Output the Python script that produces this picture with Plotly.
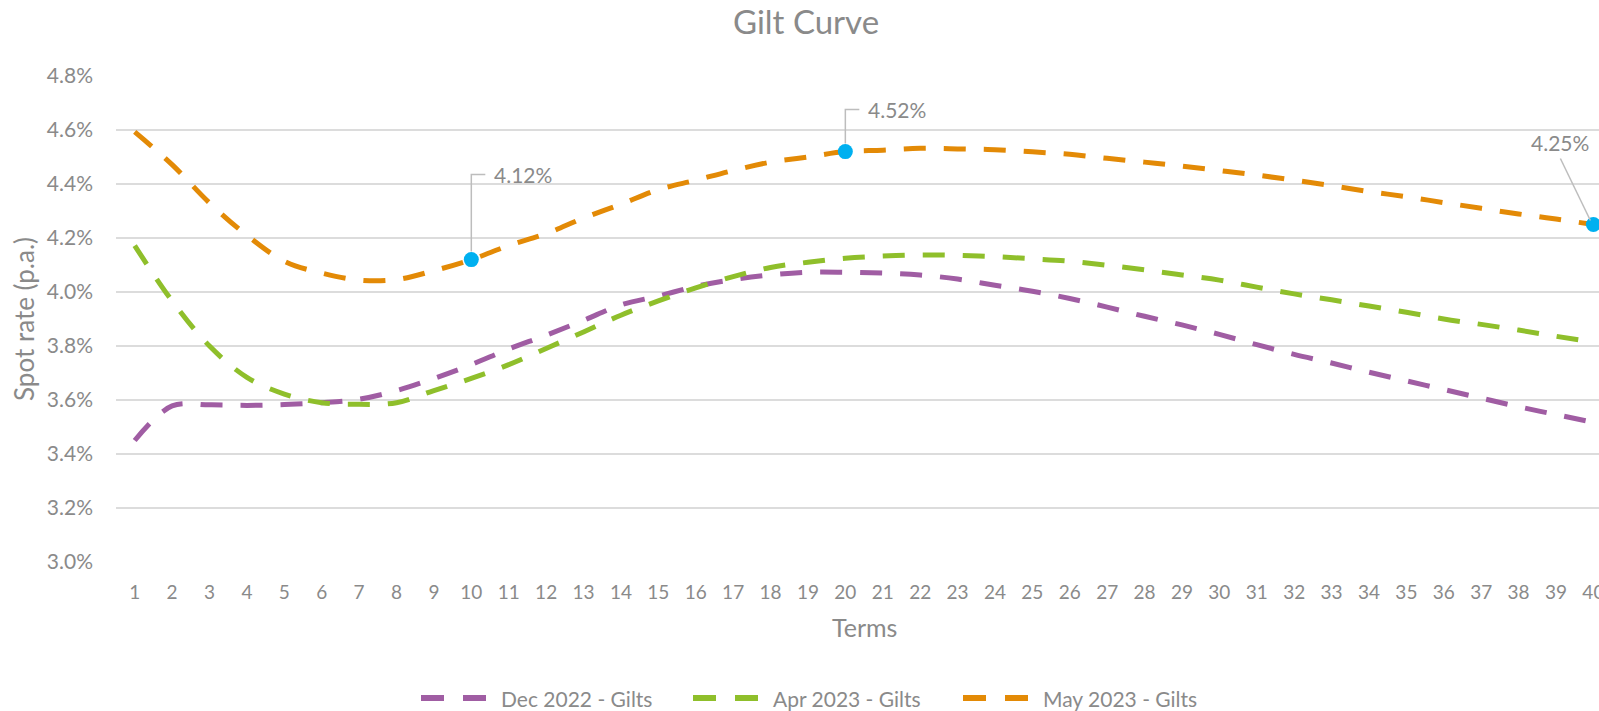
import plotly.graph_objects as go

# ---------------- data ----------------
terms = list(range(1, 41))
dec_2022 = [3.450, 3.578, 3.582, 3.580, 3.583, 3.590, 3.603, 3.635, 3.680, 3.731,
            3.789, 3.840, 3.895, 3.952, 3.985, 4.021, 4.046, 4.063, 4.073, 4.073,
            4.070, 4.063, 4.048, 4.025, 4.003, 3.976, 3.944, 3.910, 3.878, 3.843,
            3.805, 3.769, 3.737, 3.703, 3.671, 3.639, 3.607, 3.575, 3.546, 3.517]
apr_2023 = [4.172, 3.967, 3.800, 3.684, 3.622, 3.590, 3.584, 3.590, 3.635, 3.680,
            3.731, 3.791, 3.852, 3.914, 3.967, 4.015, 4.057, 4.091, 4.110, 4.125,
            4.133, 4.137, 4.136, 4.131, 4.123, 4.114, 4.099, 4.082, 4.063, 4.044,
            4.018, 3.993, 3.971, 3.948, 3.925, 3.900, 3.880, 3.859, 3.836, 3.814]
may_2023 = [4.593, 4.472, 4.330, 4.210, 4.114, 4.070, 4.044, 4.046, 4.079, 4.120,
            4.172, 4.216, 4.274, 4.325, 4.379, 4.414, 4.450, 4.481, 4.500, 4.520,
            4.525, 4.532, 4.530, 4.527, 4.519, 4.510, 4.495, 4.481, 4.466, 4.450,
            4.433, 4.414, 4.394, 4.372, 4.353, 4.331, 4.310, 4.289, 4.270, 4.250]
series_names = ["Dec 2022 - Gilts", "Apr 2023 - Gilts", "May 2023 - Gilts"]
series_values = [dec_2022, apr_2023, may_2023]
highlight_terms = [10, 20, 40]
y_ticks = [3.0, 3.2, 3.4, 3.6, 3.8, 4.0, 4.2, 4.4, 4.6, 4.8]

# ---------------- style ----------------
colors = ["#A05DA3", "#8FBF2B", "#E38A06"]
marker_color = "#00B0F0"
text_color = "#8A8A8A"
grid_color = "#DCDCDC"
leader_color = "#BDBDBD"
FONT = "Lato, 'Open Sans', sans-serif"
W, H = 1599, 711
L, R, T, B = 116, 0, 76, 149
DASH = "22px,18px"
LW = 5


def pxx(px):
    return (px - L) / (W - L - R)


def pxy(py):
    return (H - B - py) / (H - T - B)


fig = go.Figure()
for name, vals, col in zip(series_names, series_values, colors):
    fig.add_trace(go.Scatter(
        x=terms, y=vals, name=name, mode="lines",
        line=dict(color=col, width=LW, dash=DASH, shape="spline", smoothing=1.0),
        showlegend=False, hoverinfo="x+y+name"))

hl_vals = [may_2023[terms.index(t)] for t in highlight_terms]
fig.add_trace(go.Scatter(
    x=highlight_terms, y=hl_vals, mode="markers", showlegend=False,
    marker=dict(color=marker_color, size=15), cliponaxis=False))

shapes = []
annotations = []
# data labels with leader lines (offsets in pixels)
label_cfg = [
    # (term, xshift, yshift, xanchor, leader path)
    (10, 21, 85, "left", "M0,8 V85 H14"),
    (20, 21, 42, "left", "M0,8 V42 H14"),
    (40, -33, 82, "center", "M-3,4 L-33,66"),
]
for (t, xs, ys, xa, path), v in zip(label_cfg, hl_vals):
    annotations.append(dict(
        x=t, y=v, xref="x", yref="y", text=f"{v:.2f}%", showarrow=False,
        xanchor=xa, yanchor="middle", xshift=xs, yshift=ys,
        font=dict(family=FONT, size=21, color=text_color)))
    shapes.append(dict(
        type="path", xref="x", yref="y", xsizemode="pixel", ysizemode="pixel",
        xanchor=t, yanchor=v, path=path,
        line=dict(color=leader_color, width=1.5)))

# custom legend (two short dashes + text)
legend_x = [421, 693, 963]
legend_y = pxy(698)
for name, col, x0 in zip(series_names, colors, legend_x):
    for off in (0, 42):
        shapes.append(dict(
            type="line", xref="paper", yref="paper",
            x0=pxx(x0 + off), x1=pxx(x0 + off + 23), y0=legend_y, y1=legend_y,
            line=dict(color=col, width=6)))
    annotations.append(dict(
        x=pxx(x0 + 78), y=legend_y, xref="paper", yref="paper", text=name,
        showarrow=False, xanchor="left", yanchor="middle",
        font=dict(family=FONT, size=21, color=text_color)))

# axis titles
annotations.append(dict(
    x=pxx(24), y=pxy(319), xref="paper", yref="paper", text="Spot rate (p.a.)",
    textangle=-90, showarrow=False, xanchor="center", yanchor="middle",
    font=dict(family=FONT, size=26, color=text_color)))
annotations.append(dict(
    x=20.5, y=pxy(627), xref="x", yref="paper", text="Terms",
    showarrow=False, xanchor="center", yanchor="middle",
    font=dict(family=FONT, size=25, color=text_color)))

fig.update_layout(
    width=W, height=H,
    margin=dict(l=L, r=R, t=T, b=B, autoexpand=False),
    paper_bgcolor="white", plot_bgcolor="white",
    title=dict(text="Gilt Curve", x=806 / W, xref="container", xanchor="center",
               y=1 - 22 / H, yref="container", yanchor="middle",
               font=dict(family=FONT, size=33, color=text_color)),
    showlegend=False,
    shapes=shapes, annotations=annotations,
    xaxis=dict(range=[0.5, 40.15], tickmode="array", tickvals=terms,
               ticktext=[str(t) for t in terms], showgrid=False, zeroline=False,
               showline=False, ticks="", ticklabelstandoff=17, automargin=False,
               ticklabeloverflow="allow",
               tickfont=dict(family=FONT, size=19, color=text_color)),
    yaxis=dict(range=[3.0, 4.8], tickmode="array", tickvals=y_ticks,
               ticktext=[f"{v:.1f}%" for v in y_ticks], showgrid=True,
               gridcolor=grid_color, gridwidth=2, zeroline=False, showline=False,
               ticks="", ticklabelstandoff=22, automargin=False,
               tickfont=dict(family=FONT, size=21, color=text_color)),
)

fig.write_html(
    "out.html",
    config={"displayModeBar": False},
    post_script="document.body.style.margin='0';document.body.style.overflow='hidden';",
)
